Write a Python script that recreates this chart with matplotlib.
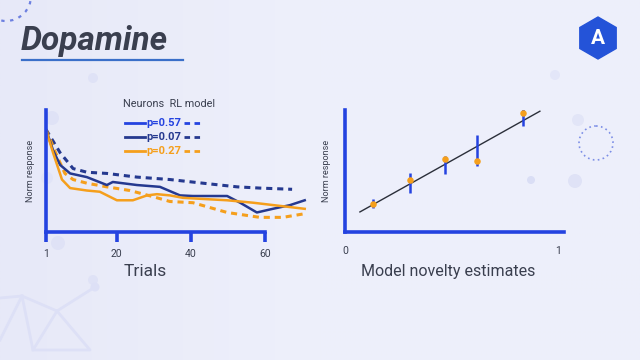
import numpy as np
import matplotlib
matplotlib.use("Agg")
import matplotlib.pyplot as plt
from matplotlib.patches import Circle, RegularPolygon
from matplotlib.lines import Line2D
from matplotlib.colors import LinearSegmentedColormap

plt.rcParams['font.family'] = ['Roboto', 'DejaVu Sans']

# ---- left chart: normalised response over trials
neu_a_t = [1, 2.9, 4.8, 7.5, 12, 17.4, 19, 25.5, 31.7, 37.1, 40.6, 49.8, 53.3, 57.8, 62.1, 66.7, 70.7]
neu_a_y = [0.84, 0.67, 0.55, 0.48, 0.45, 0.385, 0.41, 0.385, 0.37, 0.30, 0.295, 0.295, 0.24, 0.16, 0.19, 0.22, 0.26]
rl_a_t = [1, 4.8, 8.3, 12, 17.4, 25.5, 34.4, 43.3, 52.5, 58.6, 67.3]
rl_a_y = [0.84, 0.65, 0.52, 0.49, 0.48, 0.45, 0.43, 0.40, 0.37, 0.36, 0.35]
neu_b_t = [1, 2.9, 5.3, 7.5, 12, 15.5, 20.1, 24.4, 28.2, 30.9, 34.4, 37.9, 49.8, 56.8, 70.7]
neu_b_y = [0.84, 0.65, 0.43, 0.36, 0.34, 0.33, 0.26, 0.26, 0.30, 0.31, 0.30, 0.28, 0.26, 0.24, 0.19]
rl_b_t = [1, 4.0, 6.1, 8.3, 12, 17.4, 23.6, 29.8, 34.4, 40.6, 49.8, 58.6, 64.8, 70.7]
rl_b_y = [0.84, 0.62, 0.48, 0.43, 0.40, 0.37, 0.34, 0.29, 0.25, 0.24, 0.16, 0.12, 0.12, 0.15]
trial_ticks = [1, 20, 40, 60]
legend_labels = ['p=0.57', 'p=0.07', 'p=0.27']

# ---- right chart: response vs model novelty
nov_x = [0.13, 0.305, 0.47, 0.618, 0.834]
nov_y = [0.227, 0.43, 0.60, 0.58, 0.973]
err_lo = [0.195, 0.322, 0.475, 0.54, 0.87]
err_hi = [0.27, 0.486, 0.625, 0.795, 1.01]
fit_x = [0.07, 0.915]
fit_slope, fit_icpt = 0.977, 0.096

BLUE = '#2443e0'
NAVY = '#25398f'
ORANGE = '#f59f1c'
TXT = '#3a3f4f'

W, H = 640, 360
fig = plt.figure(figsize=(6.4, 3.6), dpi=100)

def fx(px): return px / W
def fy(py): return 1 - py / H

# background gradient + decorations
bg = fig.add_axes([0, 0, 1, 1], zorder=-10)
grad = np.linspace(0, 1, 256)[None, :]
cm = LinearSegmentedColormap.from_list('bg', ['#e7e9f8', '#eef0fb', '#edeffb'])
bg.imshow(grad, aspect='auto', cmap=cm, extent=[0, W, H, 0])
bg.set_xlim(0, W); bg.set_ylim(H, 0); bg.axis('off')
for (cx, cy, r, c) in [(575, 181, 7, '#dfe2f6'), (578, 120, 6, '#e2e5f7'), (531, 180, 4, '#dadef5'),
                       (52, 118, 7, '#dfe2f6'), (47, 178, 6, '#e1e4f7'), (58, 243, 7, '#dfe2f6'),
                       (93, 280, 5, '#dfe2f6'), (555, 75, 5, '#e3e6f8'), (93, 78, 5, '#dfe2f6')]:
    bg.add_patch(Circle((cx, cy), r, color=c, lw=0))
bg.add_patch(Circle((6, -4), 25, fill=False, ec='#6d80e0', lw=1.6, ls=(0, (1.5, 2.5))))
bg.add_patch(Circle((596, 143), 17, fill=False, ec='#7c8ee6', lw=1.2, ls=(0, (1, 2))))
bg.plot([0, 22, 57, 95], [298, 296, 311, 287], color='#dde0f6', lw=2)
bg.plot([22, 33, 57], [296, 350, 311], color='#dde0f6', lw=2)
bg.plot([57, 90, 33], [311, 350, 350], color='#dde0f6', lw=2)
bg.plot([0, 22], [340, 296], color='#dde0f6', lw=2)
bg.add_patch(Circle((95, 287), 4.5, color='#dde0f6', lw=0))

# title
fig.text(fx(21), fy(41), 'Dopamine', fontsize=24, fontweight='bold', fontstyle='italic',
         color=TXT, ha='left', va='center')
bg.plot([22, 183], [60, 60], color='#3a6fc9', lw=1.6)

# logo
bg.add_patch(RegularPolygon((598, 38), 6, radius=21, orientation=0, color='#2453d8'))
bg.text(598, 39, 'A', color='white', fontsize=15, fontweight='bold', ha='center', va='center')

# ---- left axes
px_per = 3.712
x1 = 1 + (312 - 46) / px_per
ax1 = fig.add_axes([fx(46), fy(232), (312 - 46) / W, 122 / H])
ax1.patch.set_alpha(0)
ax1.plot(rl_a_t, rl_a_y, color=NAVY, lw=2.2, ls=(0, (2, 1.6)))
ax1.plot(rl_b_t, rl_b_y, color=ORANGE, lw=2.2, ls=(0, (2, 1.6)))
ax1.plot(neu_a_t, neu_a_y, color=NAVY, lw=1.8, solid_joinstyle='round')
ax1.plot(neu_b_t, neu_b_y, color=ORANGE, lw=1.8, solid_joinstyle='round')
ax1.set_xlim(1, x1)
ax1.set_ylim(0, 1)
for s in ['top', 'right']:
    ax1.spines[s].set_visible(False)
for s in ['left', 'bottom']:
    ax1.spines[s].set_color(BLUE)
    ax1.spines[s].set_linewidth(2.6)
ax1.spines['bottom'].set_bounds(1, 60)
ax1.set_xticks(trial_ticks)
ax1.set_xticklabels([str(t) for t in trial_ticks])
ax1.tick_params(axis='x', direction='out', length=7.5, width=2.6, color=BLUE,
                labelsize=7.5, labelcolor=TXT, pad=5)
ax1.set_yticks([])
ax1.set_xlabel('Trials', fontsize=12.5, color=TXT, labelpad=3)
ax1.xaxis.set_label_coords((145 - 46) / (312 - 46), -0.26)
ax1.set_ylabel('Norm response', fontsize=6.5, color=TXT, labelpad=8)

# legend
fig.text(fx(123), fy(104), 'Neurons  RL model', fontsize=7.8, color=TXT, ha='left', va='center')
leg_cols = [BLUE, NAVY, ORANGE]
for i, (lab, c) in enumerate(zip(legend_labels, leg_cols)):
    yy = 123 + 14 * i
    fig.add_artist(Line2D([fx(125), fx(145)], [fy(yy), fy(yy)], color=c, lw=2))
    fig.text(fx(146), fy(yy), lab, fontsize=8, fontweight='bold', color=c, ha='left', va='center')
    fig.add_artist(Line2D([fx(184), fx(204)], [fy(yy), fy(yy)], color=c, lw=2, ls=(0, (2, 1.6))))

# ---- right axes
ax2 = fig.add_axes([fx(345), fy(232), (570 - 345) / W, 122 / H])
ax2.patch.set_alpha(0)
ax2.set_xlim(0, (570 - 345) / 213)
ax2.set_ylim(0, 1)
fxs = np.array(fit_x)
ax2.plot(fxs, fit_icpt + fit_slope * fxs, color='#2b2f3a', lw=1)
ax2.vlines(nov_x, err_lo, err_hi, color=BLUE, lw=1.8)
ax2.scatter(nov_x, nov_y, s=22, color=ORANGE, zorder=3, lw=0)
for s in ['top', 'right']:
    ax2.spines[s].set_visible(False)
for s in ['left', 'bottom']:
    ax2.spines[s].set_color(BLUE)
    ax2.spines[s].set_linewidth(2.6)
ax2.spines['bottom'].set_bounds(0, 1.03)
ax2.set_xticks([0, 1])
ax2.set_xticklabels(['0', '1'])
ax2.tick_params(axis='x', length=0, labelsize=7.5, labelcolor=TXT, pad=10)
ax2.set_yticks([])
ax2.set_xlabel('Model novelty estimates', fontsize=11.5, color=TXT, labelpad=10)
ax2.xaxis.set_label_coords((448 - 345) / (570 - 345), -0.26)
ax2.set_ylabel('Norm response', fontsize=6.5, color=TXT, labelpad=10)

fig.savefig('out.png', dpi=100)
